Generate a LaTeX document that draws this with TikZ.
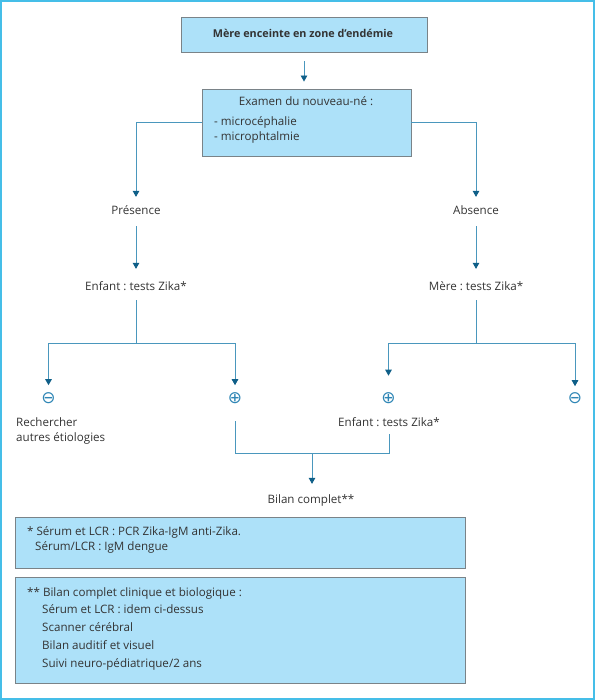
\documentclass[tikz,border=0pt]{standalone}
\usepackage{fontspec}
\setmainfont{Open Sans}
\newfontfamily\symfont{DejaVu Sans}
\usetikzlibrary{arrows.meta}
\definecolor{framec}{HTML}{45BEE8}
\definecolor{boxfill}{HTML}{ADE1F9}
\definecolor{boxline}{HTML}{7A8388}
\definecolor{connc}{HTML}{4A97BD}
\definecolor{tipc}{HTML}{0F5F88}
\definecolor{txt}{HTML}{333333}
\definecolor{signc}{HTML}{2F86B5}
\frenchspacing
\begin{document}
\begin{tikzpicture}[x=1pt,y=-1pt,
  font=\fontsize{11.6}{15}\selectfont,
  box/.style={draw=boxline, fill=boxfill, line width=0.9pt, inner sep=0pt},
  lbl/.style={inner sep=0pt, text=txt, text height=9pt, text depth=2.8pt},
  conn/.style={draw=connc, line width=0.9pt},
  arr/.style={conn, -{Triangle[width=6.5pt,length=6pt,color=tipc]}},
  sgn/.style={inner sep=0pt, text=signc, font=\symfont\fontsize{17}{17}\selectfont, minimum size=11pt}]
\useasboundingbox (0,0) rectangle (595,700);
\draw[framec, line width=1.5pt] (1,1) rectangle (594,699);

% boxes
\node[box, minimum width=246pt, minimum height=35pt] (b1) at (304,34.5) {};
\node[lbl, font=\fontsize{10.8}{15}\selectfont\bfseries] (t1) at (303,34) {Mère enceinte en zone d’endémie};
\node[box, minimum width=209pt, minimum height=67pt] (b2) at (306.5,122.5) {};
\node[lbl] (t2) at (306,102) {Examen du nouveau-né :};
\node[lbl, anchor=west] (t3) at (214,122) {- microcéphalie};
\node[lbl, anchor=west] (t4) at (214,137) {- microphtalmie};

% text nodes
\node[lbl] (pres) at (136,211) {Présence};
\node[lbl] (abs) at (476,211) {Absence};
\node[lbl] (enf1) at (136,287) {Enfant : tests Zika*};
\node[lbl] (mere) at (476,287) {Mère : tests Zika*};
\node[sgn] (m1) at (48.5,398) {⊖};
\node[sgn] (p1) at (235,398) {⊕};
\node[sgn] (p2) at (388.5,398.5) {⊕};
\node[sgn] (m2) at (575,398.5) {⊖};
\node[lbl, anchor=west, align=left, text height=, text depth=] (rech) at (16,430.5) {Rechercher\\autres étiologies};
\node[lbl] (enf2) at (389,423) {Enfant : tests Zika*};
\node[lbl] (bil) at (311,500) {Bilan complet**};

\coordinate (j1) at (136,343);
\coordinate (j2) at (476,343);
\coordinate (j3) at (312,453);

% connectors
\draw[arr, shorten <=9pt, shorten >=7pt] (b1.south) -- (b2.north -| b1.south);
\draw[arr, shorten >=8pt] (b2.west) -| (pres.north);
\draw[arr, shorten >=8pt] (b2.east) -| (abs.north);
\draw[arr, shorten <=9pt, shorten >=12pt] (pres.south) -- (enf1.north);
\draw[arr, shorten <=9pt, shorten >=12pt] (abs.south) -- (mere.north);
\draw[conn, shorten <=7pt] (enf1.south) -- (j1);
\draw[conn, shorten <=7pt] (mere.south) -- (j2);
\draw[arr, shorten >=7pt] (j1) -| (m1.north);
\draw[arr, shorten >=7pt] (j1) -| (p1.north);
\draw[arr, shorten >=17pt] (j2) -| (p2.north);
\draw[arr, shorten >=6.5pt] (j2) -| (m2.north);
\draw[conn, shorten <=17.5pt] (p1.south) |- (j3);
\draw[conn, shorten >=5pt] (j3) -| (enf2.south);
\draw[arr, shorten >=10pt] (j3) -- (bil.north -| j3);

% notes
\node[box, minimum width=450pt, minimum height=51pt] (n1) at (240,542.5) {};
\node[lbl, anchor=west] (n1a) at (27,532) {* Sérum et LCR : PCR Zika-IgM anti-Zika.};
\node[lbl, anchor=west] (n1b) at (35,547) {Sérum/LCR : IgM dengue};
\node[box, minimum width=450pt, minimum height=106pt] (n2) at (240,630) {};
\node[lbl, anchor=west] (n2a) at (27,593) {** Bilan complet clinique et biologique :};
\node[lbl, anchor=west] (n2b) at (42,610) {Sérum et LCR : idem ci-dessus};
\node[lbl, anchor=west] (n2c) at (42,628) {Scanner cérébral};
\node[lbl, anchor=west] (n2d) at (42,646) {Bilan auditif et visuel};
\node[lbl, anchor=west] (n2e) at (42,664) {Suivi neuro-pédiatrique/2 ans};
\end{tikzpicture}
\end{document}
